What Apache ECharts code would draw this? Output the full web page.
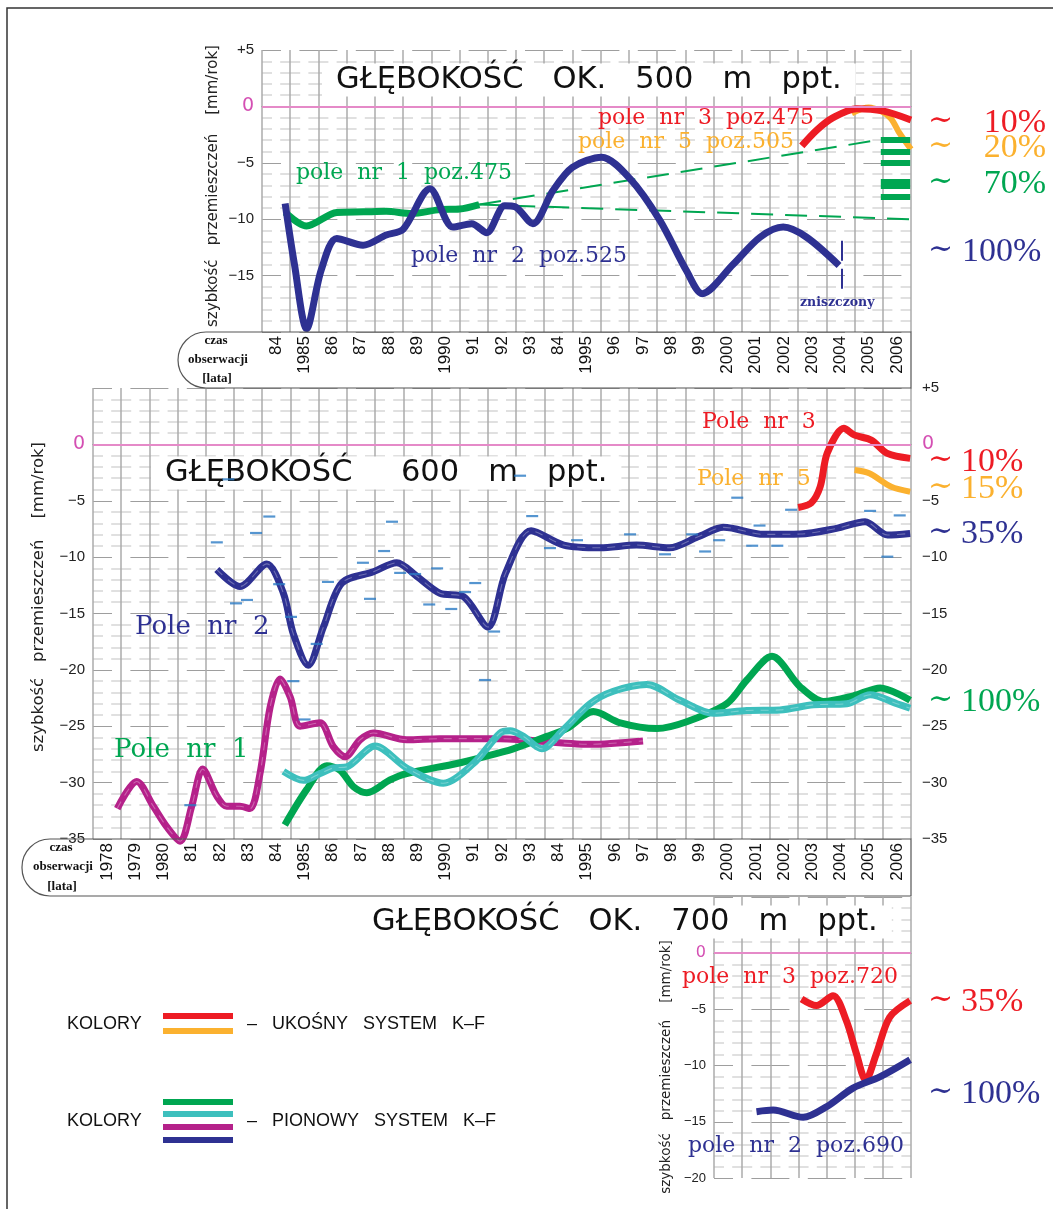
<!DOCTYPE html>
<html>
<head>
<meta charset="utf-8">
<title>Szybkość przemieszczeń</title>
<script src="https://cdn.jsdelivr.net/npm/echarts@6/dist/echarts.min.js"></script>
<style>
  html, body { margin: 0; padding: 0; background: #fff; }
  #chart { width: 1053px; height: 1209px; }
</style>
</head>
<body>
<div id="chart"></div>
<script>
// axis labels as printed (1994 is written "84" on the original)
var yearsTop = ['84', '1985', '86', '87', '88', '89', '1990', '91', '92', '93', '84', '1995', '96', '97', '98', '99', '2000', '2001', '2002', '2003', '2004', '2005', '2006'];
var yearsMid = ['1978', '1979', '1980', '81', '82', '83', '84', '1985', '86', '87', '88', '89', '1990', '91', '92', '93', '84', '1995', '96', '97', '98', '99', '2000', '2001', '2002', '2003', '2004', '2005', '2006'];

// ~500 m  [year, mm/rok]
var pole2_500 = [[1984.82, -8.6], [1985.15, -14.0], [1985.58, -19.7], [1986.1, -14.5], [1986.65, -11.7], [1987.58, -12.3], [1988.4, -11.4], [1989.0, -10.9], [1989.95, -7.3], [1990.77, -10.7], [1991.43, -10.4], [1991.96, -11.2], [1992.6, -8.8], [1992.97, -8.9], [1993.6, -10.4], [1994.3, -7.5], [1995.0, -5.4], [1996.04, -4.5], [1997.04, -6.4], [1998.1, -10.1], [1999.05, -14.6], [1999.6, -16.6], [2000.7, -14.0], [2001.65, -11.6], [2002.47, -10.7], [2003.3, -11.6], [2004.45, -14.1]];
var pole1_500 = [[1984.82, -9.4], [1985.58, -10.6], [1986.65, -9.4], [1987.6, -9.35], [1988.4, -9.3], [1989.3, -9.5], [1990.3, -9.15], [1991.0, -9.1], [1991.7, -8.7]];
var pole1_500_upper = [[1991.7, -8.7], [2005.8, -3.0]];
var pole1_500_lower = [[1991.7, -8.7], [2007.0, -10.0]];
var pole1_500_bars = [-3.0, -4.0, -5.0, -6.9, -8.0];
var pole3_500 = [[2003.13, -3.5], [2003.66, -2.1], [2004.24, -1.0], [2005.07, -0.2], [2006.0, -0.4], [2007.0, -1.2]];
var pole5_500 = [[2004.9, -0.6], [2005.5, -0.1], [2006.0, -0.5], [2006.3, -1.1], [2006.6, -2.4], [2007.0, -3.8]];
var destroyed_500 = [2004.55, -11.9, -16.4];

// 600 m
var pole2_600 = [[1982.39, -11.1], [1983.21, -12.6], [1984.16, -10.6], [1984.75, -13.2], [1985.1, -16.8], [1985.63, -19.6], [1986.17, -16.2], [1986.82, -12.3], [1987.94, -11.3], [1988.77, -10.5], [1989.48, -11.7], [1990.3, -13.2], [1991.13, -13.5], [1992.0, -16.2], [1992.63, -11.4], [1993.53, -7.66], [1994.69, -8.93], [1995.98, -9.17], [1997.27, -8.93], [1998.43, -9.17], [1999.45, -8.2], [2000.36, -7.36], [2001.78, -7.98], [2003.07, -7.95], [2004.36, -7.45], [2005.37, -6.86], [2006.17, -8.04], [2006.97, -7.9]];
var pole2_600_points = [[1982.39, -8.69], [1982.8, -3.1], [1984.25, -6.4], [1983.78, -7.86], [1983.07, -14.1], [1983.46, -13.8], [1984.6, -12.4], [1985.02, -15.3], [1985.93, -17.7], [1986.33, -12.2], [1987.57, -10.5], [1987.82, -13.7], [1988.32, -9.46], [1988.6, -6.86], [1988.89, -11.4], [1989.42, -11.5], [1990.2, -11.0], [1989.92, -14.2], [1990.7, -14.6], [1991.55, -12.3], [1991.19, -13.1], [1992.22, -16.6], [1991.9, -20.9], [1993.57, -6.36], [1993.14, -2.78], [1994.2, -9.2], [1995.16, -8.5], [1997.04, -7.98], [1998.28, -9.75], [1999.24, -7.98], [1999.7, -9.5], [2000.2, -8.5], [2000.84, -4.73], [2001.37, -8.99], [2001.63, -7.2], [2002.26, -8.99], [2002.75, -5.8], [2005.55, -5.9], [2006.6, -6.3], [2006.16, -9.96], [1981.45, -32.0], [1985.1, -21.0], [1985.5, -24.4]];
var pole3_600 = [[2003.0, -5.6], [2003.46, -5.2], [2003.78, -3.76], [2004.03, -0.78], [2004.62, 1.42], [2005.0, 0.82], [2005.59, 0.38], [2006.16, -0.8], [2006.97, -1.24]];
var pole5_600 = [[2005.0, -2.28], [2005.52, -2.57], [2006.3, -3.76], [2006.97, -4.2]];
var magenta_600 = [[1978.86, -32.3], [1979.55, -29.9], [1980.14, -32.1], [1980.61, -33.9], [1981.09, -35.2], [1981.5, -32.1], [1981.89, -28.8], [1982.39, -31.2], [1982.74, -32.1], [1983.21, -32.1], [1983.57, -32.3], [1983.92, -29.2], [1984.28, -23.3], [1984.63, -20.8], [1984.99, -22.4], [1985.34, -25.0], [1986.05, -24.7], [1986.52, -26.8], [1986.94, -27.7], [1987.47, -26.2], [1987.94, -25.6], [1989.12, -26.2], [1990.3, -26.1], [1992.43, -26.1], [1995.6, -26.6], [1997.5, -26.3]];
var green_600 = [[1984.8, -33.75], [1985.58, -30.6], [1986.29, -28.5], [1986.76, -28.9], [1987.23, -30.35], [1987.71, -30.9], [1988.53, -29.76], [1989.12, -29.2], [1990.9, -28.3], [1991.72, -27.8], [1992.9, -27.0], [1994.09, -25.9], [1994.8, -25.2], [1995.74, -23.7], [1996.69, -24.7], [1997.99, -25.2], [1999.05, -24.6], [2000.47, -23.0], [2001.18, -20.9], [2002.07, -18.8], [2003.07, -21.5], [2003.9, -22.8], [2004.96, -22.3], [2005.91, -21.6], [2006.97, -22.7]];
var teal_600 = [[1984.75, -29.0], [1985.46, -29.8], [1986.05, -29.2], [1986.52, -28.7], [1987.0, -28.6], [1988.0, -26.75], [1989.12, -28.7], [1990.42, -30.05], [1991.49, -28.3], [1992.43, -25.6], [1992.79, -25.4], [1993.26, -25.9], [1993.91, -27.0], [1994.68, -25.3], [1995.62, -23.0], [1996.45, -21.9], [1997.63, -21.3], [1998.81, -22.7], [1999.99, -23.85], [2001.18, -23.6], [2002.36, -23.55], [2003.54, -23.1], [2004.73, -23.0], [2005.55, -22.2], [2006.5, -23.0], [2006.97, -23.4]];

// ~700 m
var pole3_700 = [[2003.11, -4.07], [2003.64, -4.66], [2004.23, -3.78], [2004.7, -5.99], [2005.06, -8.94], [2005.39, -11.3], [2005.77, -8.94], [2006.24, -5.7], [2006.97, -4.22]];
var pole2_700 = [[2001.51, -14.1], [2002.1, -13.96], [2003.17, -14.6], [2004.0, -13.66], [2004.94, -12.0], [2005.89, -11.0], [2006.97, -9.47]];

var NAVY = '#2e3192', RED = '#ed1c24', ORANGE = '#fbb12f', GREEN = '#00a651',
    TEAL = '#3dbfbd', MAGENTA = '#b5218a', ZERO = '#e58ac8', DOTS = '#2b7bc4';

var chart = echarts.init(document.getElementById('chart'));

function yFmt(hidden) {
    return function (v) {
        if (hidden.indexOf(v) >= 0) return '';
        if (v === 0) return '{z|0}';
        return v > 0 ? '+' + v : '\u2212' + Math.abs(v);
    };
}

function yAxis(grid, min, max, hidden, size, zeroSize) {
    return {
        type: 'value', gridIndex: grid, min: min, max: max, interval: 5,
        axisLine: { show: false }, axisTick: { show: false },
        axisLabel: {
            formatter: yFmt(hidden), fontFamily: 'Liberation Sans', fontSize: size, color: '#222', margin: 8,
            rich: { z: { color: '#d44fb3', fontSize: zeroSize, fontFamily: 'DejaVu Sans' } }
        },
        splitLine: { show: true, lineStyle: { color: '#9e9e9e', width: 1, type: [38, 18.4], dashOffset: 19 } },
        minorTick: { show: false, splitNumber: 5 },
        minorSplitLine: { show: true, lineStyle: { color: '#d6d6d6', width: 1.5, type: [20, 8.2], dashOffset: 10 } }
    };
}

function catAxis(grid, data) {
    return {
        type: 'category', gridIndex: grid, data: data, boundaryGap: true,
        axisLine: { show: true, lineStyle: { color: '#8a8a8a', width: 1 } },
        axisTick: { show: false },
        axisLabel: { interval: 0, rotate: 90, fontFamily: 'Liberation Sans', fontSize: 17, color: '#111', margin: 4 },
        splitLine: { show: true, interval: 0, lineStyle: { color: '#ababab', width: 1.5 } }
    };
}

function curve(name, data, color, width, xi, yi, extra) {
    return Object.assign({
        name: name, type: 'line', data: data, xAxisIndex: xi, yAxisIndex: yi,
        smooth: 0.3, symbol: 'none', silent: true, clip: false,
        lineStyle: { color: color, width: width }
    }, extra || {});
}

// faint light dashes running inside a thick line
function centre(name, data, xi, yi) {
    return curve(name + ' (środek)', data, '#fff', 1.1, xi, yi,
        { lineStyle: { color: 'rgba(255,255,255,0.3)', width: 1.1, type: [8, 7] } });
}

function zeroLine() {
    return {
        silent: true, symbol: ['none', 'none'], label: { show: false },
        lineStyle: { color: ZERO, width: 2, type: 'solid' },
        data: [{ yAxis: 0 }]
    };
}

var barsMark = {
    silent: true, symbol: ['none', 'none'], label: { show: false },
    lineStyle: { color: GREEN, width: 6, type: 'solid' },
    data: pole1_500_bars.map(function (v) {
        return [{ coord: [2005.93, v], lineStyle: { width: v === -6.9 ? 10 : 6 } }, { coord: [2006.97, v] }];
    })
};

var destroyedMark = {
    silent: true, symbol: ['none', 'none'], label: { show: false },
    lineStyle: { color: NAVY, width: 2, type: [20, 8] },
    data: [[{ coord: [destroyed_500[0], destroyed_500[1]] }, { coord: [destroyed_500[0], destroyed_500[2]] }]]
};

// text helpers
function txt(x, y, text, color, font, extra) {
    return {
        type: 'text', x: x, y: y, z: 5, silent: true,
        style: Object.assign({ text: text, fill: color, font: font, align: 'left', verticalAlign: 'middle' }, extra || {})
    };
}
function vtxt(x, y, text, size) {
    return {
        type: 'text', x: x, y: y, z: 5, rotation: Math.PI / 2, silent: true,
        style: { text: text, fill: '#222', font: size + 'px "DejaVu Sans"', align: 'center', verticalAlign: 'middle' }
    };
}
function pct(y, color, text, px, rightAlign) {
    return [
        txt(928, y, '\u223C', color, '30px "DejaVu Serif"'),
        txt(px, y + 2, text, color, '34px "Liberation Serif"', { align: rightAlign ? 'right' : 'left' })
    ];
}
function titleBox(x, y, text) {
    return {
        type: 'text', x: x, y: y, z: 1, silent: true,
        style: {
            text: text, fill: '#111', font: '30.5px "DejaVu Sans"', align: 'left', verticalAlign: 'middle',
            backgroundColor: '#fff', padding: [1, 14]
        }
    };
}
function bar(y, color) {
    return { type: 'rect', z: 5, silent: true, shape: { x: 163, y: y, width: 70, height: 6 }, style: { fill: color } };
}

var SERIF = '"DejaVu Serif"';
var LEGEND_FONT = '18px "Liberation Sans"';
var graphics = [
    { type: 'rect', z: 0, silent: true, shape: { x: 7, y: 8, width: 1200, height: 1300 }, style: { fill: 'none', stroke: '#333', lineWidth: 1.5 } },
    { type: 'rect', z: 5, silent: true, shape: { x: 178, y: 332, width: 733, height: 56, r: [28, 0, 0, 28] }, style: { fill: 'none', stroke: '#555', lineWidth: 1.2 } },
    { type: 'rect', z: 5, silent: true, shape: { x: 22, y: 839, width: 889, height: 57, r: [28, 0, 0, 28] }, style: { fill: 'none', stroke: '#555', lineWidth: 1.2 } },

    titleBox(322, 80, 'GŁĘBOKOŚĆ   OK.   500   m   ppt.'),
    titleBox(151, 473, 'GŁĘBOKOŚĆ     600   m   ppt.'),
    titleBox(358, 922, 'GŁĘBOKOŚĆ   OK.   700   m   ppt.'),

    vtxt(213, 186, 'szybkość   przemieszczeń    [mm/rok]', 15),
    vtxt(39, 597, 'szybkość   przemieszczeń    [mm/rok]', 16.5),
    vtxt(666, 1067, 'szybkość   przemieszczeń    [mm/rok]', 13.5),

    txt(216, 341, 'czas', '#111', 'bold 13px "Liberation Serif"', { align: 'center' }),
    txt(218, 360, 'obserwacji', '#111', 'bold 13px "Liberation Serif"', { align: 'center' }),
    txt(217, 379, '[lata]', '#111', 'bold 13px "Liberation Serif"', { align: 'center' }),
    txt(61, 848, 'czas', '#111', 'bold 13px "Liberation Serif"', { align: 'center' }),
    txt(63, 867, 'obserwacji', '#111', 'bold 13px "Liberation Serif"', { align: 'center' }),
    txt(62, 887, '[lata]', '#111', 'bold 13px "Liberation Serif"', { align: 'center' }),

    txt(296, 173, 'pole  nr  1  poz.475', GREEN, '22px ' + SERIF),
    txt(411, 256, 'pole  nr  2  poz.525', NAVY, '22px ' + SERIF),
    txt(598, 118, 'pole  nr  3  poz.475', RED, '22px ' + SERIF),
    txt(578, 142, 'pole  nr  5  poz.505', ORANGE, '22px ' + SERIF),
    txt(800, 303, 'zniszczony', NAVY, 'bold 12.5px ' + SERIF),

    txt(702, 422, 'Pole  nr  3', RED, '22px ' + SERIF),
    txt(697, 479, 'Pole  nr  5', ORANGE, '22px ' + SERIF),
    txt(135, 627, 'Pole  nr  2', NAVY, '26px ' + SERIF),
    txt(114, 750, 'Pole  nr  1', GREEN, '26px ' + SERIF),

    txt(682, 977, 'pole  nr  3  poz.720', RED, '22px ' + SERIF),
    txt(688, 1146, 'pole  nr  2  poz.690', NAVY, '22px ' + SERIF),

    txt(67, 1024, 'KOLORY', '#111', LEGEND_FONT),
    txt(247, 1024, '–   UKOŚNY   SYSTEM   K–F', '#111', LEGEND_FONT),
    txt(67, 1121, 'KOLORY', '#111', LEGEND_FONT),
    txt(247, 1121, '–   PIONOWY   SYSTEM   K–F', '#111', LEGEND_FONT),
    bar(1013, RED), bar(1028, ORANGE),
    bar(1099, GREEN), bar(1111, TEAL), bar(1124, MAGENTA), bar(1137, NAVY)
].concat(
    pct(121, RED, '10%', 1046, true),
    pct(146, ORANGE, '20%', 1046, true),
    pct(182, GREEN, '70%', 1046, true),
    pct(250, NAVY, '100%', 962, false),
    pct(460, RED, '10%', 961, false),
    pct(487, ORANGE, '15%', 961, false),
    pct(532, NAVY, '35%', 961, false),
    pct(700, GREEN, '100%', 961, false),
    pct(1000, RED, '35%', 961, false),
    pct(1092, NAVY, '100%', 961, false)
);

var rightAxis = yAxis(1, -35, 5, [], 15, 19);
rightAxis.position = 'right';
rightAxis.axisLabel.margin = 11;
rightAxis.splitLine = { show: false };
rightAxis.minorSplitLine = { show: false };

var option = {
    animation: false,
    backgroundColor: '#fff',
    grid: [
        { left: 262, top: 50, width: 649, height: 282 },
        { left: 93, top: 388, width: 818, height: 451 },
        { left: 714, top: 897, width: 197, height: 281 }
    ],
    xAxis: [
        catAxis(0, yearsTop),
        { type: 'value', gridIndex: 0, min: 1984, max: 2007, show: false },
        catAxis(1, yearsMid),
        { type: 'value', gridIndex: 1, min: 1978, max: 2007, show: false },
        {
            type: 'value', gridIndex: 2, min: 2000, max: 2007, interval: 1,
            axisLabel: { show: false }, axisTick: { show: false },
            axisLine: { show: true, lineStyle: { color: '#8a8a8a', width: 1 } },
            splitLine: { show: true, lineStyle: { color: '#ababab', width: 1.5 } }
        }
    ],
    yAxis: [
        yAxis(0, -20, 5, [-20], 15, 19),
        yAxis(1, -35, 5, [5], 15, 19),
        rightAxis,
        yAxis(2, -20, 5, [5], 13, 16)
    ],
    graphic: { elements: graphics },
    series: [
        // ~500 m
        curve('pole nr 1 poz.475', pole1_500, GREEN, 7, 1, 0, { markLine: zeroLine() }),
        curve('pole nr 1 trend górny', pole1_500_upper, GREEN, 2, 1, 0, { smooth: false, lineStyle: { color: GREEN, width: 2, type: [22, 12] }, markLine: barsMark }),
        curve('pole nr 1 trend dolny', pole1_500_lower, GREEN, 2, 1, 0, { smooth: false, lineStyle: { color: GREEN, width: 2, type: [22, 12] } }),
        curve('pole nr 5 poz.505', pole5_500, ORANGE, 6, 1, 0),
        curve('pole nr 3 poz.475', pole3_500, RED, 7, 1, 0),
        curve('pole nr 2 poz.525', pole2_500, NAVY, 7, 1, 0, { markLine: destroyedMark }),

        // 600 m
        curve('Pole nr 1 (magenta)', magenta_600, MAGENTA, 7, 3, 1, { markLine: zeroLine() }),
        centre('Pole nr 1 (magenta)', magenta_600, 3, 1),
        curve('Pole nr 1 (zielony)', green_600, GREEN, 7, 3, 1),
        curve('Pole nr 1 (turkus)', teal_600, TEAL, 7, 3, 1),
        centre('Pole nr 1 (turkus)', teal_600, 3, 1),
        curve('Pole nr 2', pole2_600, NAVY, 7, 3, 1),
        centre('Pole nr 2', pole2_600, 3, 1),
        curve('Pole nr 5', pole5_600, ORANGE, 6, 3, 1),
        curve('Pole nr 3', pole3_600, RED, 7, 3, 1),
        {
            name: 'Pole nr 2 pomiary', type: 'scatter', data: pole2_600_points, xAxisIndex: 3, yAxisIndex: 1,
            symbol: 'rect', symbolSize: [12, 2.2], itemStyle: { color: DOTS }, silent: true, z: 4
        },

        // ~700 m
        curve('pole nr 3 poz.720', pole3_700, RED, 7, 4, 3, { markLine: zeroLine() }),
        curve('pole nr 2 poz.690', pole2_700, NAVY, 7, 4, 3)
    ]
};

chart.setOption(option);
</script>
</body>
</html>
